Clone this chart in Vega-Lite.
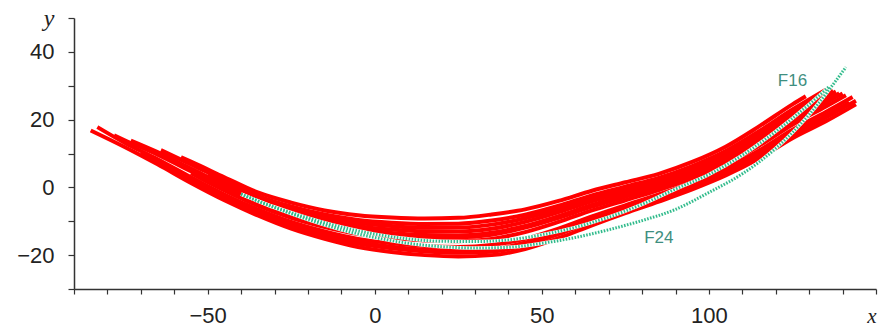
{
  "$schema": "https://vega.github.io/schema/vega-lite/v6.json",
  "width": 802,
  "height": 271,
  "autosize": "none",
  "padding": {"left": 74, "top": 18, "right": 4, "bottom": 40},
  "background": "white",
  "config": {"view": {"stroke": null}},
  "datasets": {
    "red": [
      {"c":1,"x":-85,"y":16.8},{"c":1,"x":-75,"y":12},{"c":1,"x":-65,"y":6.8},{"c":1,"x":-55,"y":1.3},{"c":1,"x":-45,"y":-3.8},{"c":1,"x":-35,"y":-8.3},{"c":1,"x":-25,"y":-12.2},{"c":1,"x":-15,"y":-15.2},{"c":1,"x":-5,"y":-17.6},{"c":1,"x":5,"y":-19.1},{"c":1,"x":15,"y":-20},{"c":1,"x":25,"y":-20.4},{"c":1,"x":35,"y":-20},{"c":1,"x":45,"y":-18.2},{"c":1,"x":55,"y":-15},{"c":1,"x":65,"y":-11.2},{"c":1,"x":75,"y":-7.6},{"c":1,"x":85,"y":-4.2},{"c":1,"x":95,"y":-0.6},{"c":1,"x":105,"y":3.5},{"c":1,"x":115,"y":8.5},{"c":1,"x":125,"y":14.5},{"c":1,"x":135,"y":19.5},{"c":1,"x":144,"y":24.5},
      {"c":2,"x":-83,"y":17.8},{"c":2,"x":-75,"y":13.25},{"c":2,"x":-65,"y":8.3},{"c":2,"x":-55,"y":3},{"c":2,"x":-45,"y":-2.1},{"c":2,"x":-35,"y":-6.5},{"c":2,"x":-25,"y":-10.2},{"c":2,"x":-15,"y":-13},{"c":2,"x":-5,"y":-15.2},{"c":2,"x":5,"y":-16.5},{"c":2,"x":15,"y":-17.3},{"c":2,"x":25,"y":-17.6},{"c":2,"x":35,"y":-17},{"c":2,"x":45,"y":-15.2},{"c":2,"x":55,"y":-12.2},{"c":2,"x":65,"y":-8.6},{"c":2,"x":75,"y":-5.3},{"c":2,"x":85,"y":-2.1},{"c":2,"x":95,"y":1.5},{"c":2,"x":105,"y":5.63},{"c":2,"x":115,"y":10.88},{"c":2,"x":125,"y":17},{"c":2,"x":135,"y":22.25},{"c":2,"x":143,"y":26.65},
      {"c":3,"x":-78,"y":15.35},{"c":3,"x":-75,"y":14},{"c":3,"x":-65,"y":9.65},{"c":3,"x":-55,"y":4.75},{"c":3,"x":-45,"y":-0.25},{"c":3,"x":-35,"y":-4.75},{"c":3,"x":-25,"y":-8.25},{"c":3,"x":-15,"y":-10.9},{"c":3,"x":-5,"y":-12.85},{"c":3,"x":5,"y":-13.95},{"c":3,"x":15,"y":-14.6},{"c":3,"x":25,"y":-14.75},{"c":3,"x":35,"y":-14},{"c":3,"x":45,"y":-11.9},{"c":3,"x":55,"y":-9},{"c":3,"x":65,"y":-5.7},{"c":3,"x":75,"y":-2.8},{"c":3,"x":85,"y":0},{"c":3,"x":95,"y":3.5},{"c":3,"x":105,"y":7.75},{"c":3,"x":115,"y":13.25},{"c":3,"x":125,"y":19.5},{"c":3,"x":135,"y":25},{"c":3,"x":140,"y":27.75},
      {"c":4,"x":-73,"y":13.8},{"c":4,"x":-65,"y":10.4},{"c":4,"x":-55,"y":5.58},{"c":4,"x":-45,"y":0.73},{"c":4,"x":-35,"y":-3.78},{"c":4,"x":-25,"y":-7.13},{"c":4,"x":-15,"y":-9.67},{"c":4,"x":-5,"y":-11.46},{"c":4,"x":5,"y":-12.44},{"c":4,"x":15,"y":-12.98},{"c":4,"x":25,"y":-13.03},{"c":4,"x":35,"y":-12.2},{"c":4,"x":45,"y":-10.18},{"c":4,"x":55,"y":-7.33},{"c":4,"x":65,"y":-4.15},{"c":4,"x":75,"y":-1.48},{"c":4,"x":85,"y":1.2},{"c":4,"x":95,"y":4.7},{"c":4,"x":105,"y":9.03},{"c":4,"x":115,"y":14.68},{"c":4,"x":125,"y":21},{"c":4,"x":135,"y":26.65},{"c":4,"x":138,"y":28.3},
      {"c":5,"x":-64,"y":11},{"c":5,"x":-55,"y":6.8},{"c":5,"x":-45,"y":2.03},{"c":5,"x":-35,"y":-2.48},{"c":5,"x":-25,"y":-5.63},{"c":5,"x":-15,"y":-8.03},{"c":5,"x":-5,"y":-9.6},{"c":5,"x":5,"y":-10.42},{"c":5,"x":15,"y":-10.82},{"c":5,"x":25,"y":-10.73},{"c":5,"x":35,"y":-9.8},{"c":5,"x":45,"y":-8.08},{"c":5,"x":55,"y":-5.43},{"c":5,"x":65,"y":-2.35},{"c":5,"x":75,"y":0.23},{"c":5,"x":85,"y":2.8},{"c":5,"x":95,"y":6.3},{"c":5,"x":105,"y":10.73},{"c":5,"x":115,"y":16.58},{"c":5,"x":125,"y":23},{"c":5,"x":135,"y":28.85},
      {"c":6,"x":-58,"y":8.9},{"c":6,"x":-55,"y":7.6},{"c":6,"x":-45,"y":3},{"c":6,"x":-35,"y":-1.5},{"c":6,"x":-25,"y":-4.5},{"c":6,"x":-15,"y":-6.8},{"c":6,"x":-5,"y":-8.2},{"c":6,"x":5,"y":-8.9},{"c":6,"x":15,"y":-9.2},{"c":6,"x":25,"y":-9},{"c":6,"x":35,"y":-8},{"c":6,"x":45,"y":-6.5},{"c":6,"x":55,"y":-4},{"c":6,"x":65,"y":-1},{"c":6,"x":75,"y":1.5},{"c":6,"x":85,"y":4},{"c":6,"x":95,"y":7.5},{"c":6,"x":105,"y":12},{"c":6,"x":115,"y":18},{"c":6,"x":125,"y":24.5},{"c":6,"x":129,"y":26.9},
      {"c":7,"x":-70,"y":10.1},{"c":7,"x":-65,"y":7.6},{"c":7,"x":-55,"y":2.2},{"c":7,"x":-45,"y":-3.1},{"c":7,"x":-35,"y":-7.6},{"c":7,"x":-25,"y":-11.4},{"c":7,"x":-15,"y":-14.3},{"c":7,"x":-5,"y":-16.6},{"c":7,"x":5,"y":-18},{"c":7,"x":15,"y":-18.9},{"c":7,"x":25,"y":-19.3},{"c":7,"x":35,"y":-19},{"c":7,"x":45,"y":-17},{"c":7,"x":55,"y":-13.8},{"c":7,"x":65,"y":-10},{"c":7,"x":75,"y":-6.6},{"c":7,"x":85,"y":-3.4},{"c":7,"x":95,"y":0.3},{"c":7,"x":105,"y":4.35},{"c":7,"x":115,"y":9.45},{"c":7,"x":125,"y":15.5},{"c":7,"x":135,"y":20.6},{"c":7,"x":144,"y":25.55},
      {"c":8,"x":-55,"y":4.2},{"c":8,"x":-45,"y":-0.9},{"c":8,"x":-35,"y":-5.4},{"c":8,"x":-25,"y":-9},{"c":8,"x":-15,"y":-11.72},{"c":8,"x":-5,"y":-13.78},{"c":8,"x":5,"y":-14.96},{"c":8,"x":15,"y":-15.68},{"c":8,"x":25,"y":-15.9},{"c":8,"x":35,"y":-15.2},{"c":8,"x":45,"y":-13.2},{"c":8,"x":55,"y":-10.2},{"c":8,"x":65,"y":-6.8},{"c":8,"x":75,"y":-3.8},{"c":8,"x":85,"y":-0.8},{"c":8,"x":95,"y":2.7},{"c":8,"x":105,"y":6.9},{"c":8,"x":115,"y":12.3},{"c":8,"x":125,"y":18.5},{"c":8,"x":135,"y":23.9},{"c":8,"x":141,"y":27.2},
      {"c":9,"x":-50,"y":3.75},{"c":9,"x":-45,"y":1.38},{"c":9,"x":-35,"y":-3.13},{"c":9,"x":-25,"y":-6.38},{"c":9,"x":-15,"y":-8.85},{"c":9,"x":-5,"y":-10.53},{"c":9,"x":5,"y":-11.43},{"c":9,"x":15,"y":-11.9},{"c":9,"x":25,"y":-11.88},{"c":9,"x":35,"y":-11},{"c":9,"x":45,"y":-9.13},{"c":9,"x":55,"y":-6.38},{"c":9,"x":65,"y":-3.25},{"c":9,"x":75,"y":-0.63},{"c":9,"x":85,"y":2},{"c":9,"x":95,"y":5.5},{"c":9,"x":105,"y":9.88},{"c":9,"x":115,"y":15.63},{"c":9,"x":125,"y":22},{"c":9,"x":135,"y":27.75},{"c":9,"x":137,"y":28.85},
      {"c":10,"x":-45,"y":0.08},{"c":10,"x":-35,"y":-4.43},{"c":10,"x":-25,"y":-7.88},{"c":10,"x":-15,"y":-10.49},{"c":10,"x":-5,"y":-12.39},{"c":10,"x":5,"y":-13.45},{"c":10,"x":15,"y":-14.06},{"c":10,"x":25,"y":-14.18},{"c":10,"x":35,"y":-13.4},{"c":10,"x":45,"y":-11.4},{"c":10,"x":55,"y":-8.5},{"c":10,"x":65,"y":-5.2},{"c":10,"x":75,"y":-2.33},{"c":10,"x":85,"y":0.4},{"c":10,"x":95,"y":3.9},{"c":10,"x":105,"y":8.18},{"c":10,"x":115,"y":13.73},{"c":10,"x":125,"y":20},{"c":10,"x":135,"y":25.55},{"c":10,"x":139,"y":27.75},
      {"c":11,"x":-40,"y":-4.78},{"c":11,"x":-35,"y":-7.03},{"c":11,"x":-25,"y":-10.88},{"c":11,"x":-15,"y":-13.77},{"c":11,"x":-5,"y":-16.1},{"c":11,"x":5,"y":-17.49},{"c":11,"x":15,"y":-18.38},{"c":11,"x":25,"y":-18.7},{"c":11,"x":35,"y":-18.3},{"c":11,"x":45,"y":-16.3},{"c":11,"x":55,"y":-13.2},{"c":11,"x":65,"y":-9.5},{"c":11,"x":75,"y":-6.2},{"c":11,"x":85,"y":-3},{"c":11,"x":95,"y":0.7},{"c":11,"x":105,"y":4.78},{"c":11,"x":115,"y":9.93},{"c":11,"x":125,"y":16},{"c":11,"x":135,"y":21.15},{"c":11,"x":142,"y":25}
    ],
    "green": [
      {"s":"F16","x":-40,"y":-2},{"s":"F16","x":-30,"y":-5.8},{"s":"F16","x":-20,"y":-9},{"s":"F16","x":-10,"y":-11.7},{"s":"F16","x":0,"y":-13.8},{"s":"F16","x":10,"y":-15.2},{"s":"F16","x":20,"y":-15.9},{"s":"F16","x":30,"y":-16},{"s":"F16","x":40,"y":-15.5},{"s":"F16","x":50,"y":-14},{"s":"F16","x":60,"y":-11.8},{"s":"F16","x":70,"y":-8.8},{"s":"F16","x":80,"y":-5},{"s":"F16","x":90,"y":-0.5},{"s":"F16","x":100,"y":3.8},{"s":"F16","x":110,"y":9.5},{"s":"F16","x":120,"y":16.5},{"s":"F16","x":130,"y":24.5},{"s":"F16","x":136,"y":29.8},
      {"s":"F24","x":-40,"y":-2},{"s":"F24","x":-30,"y":-6},{"s":"F24","x":-20,"y":-9.5},{"s":"F24","x":-10,"y":-12.5},{"s":"F24","x":0,"y":-14.8},{"s":"F24","x":10,"y":-16.5},{"s":"F24","x":20,"y":-17.5},{"s":"F24","x":30,"y":-17.9},{"s":"F24","x":40,"y":-17.7},{"s":"F24","x":50,"y":-16.5},{"s":"F24","x":60,"y":-14.8},{"s":"F24","x":70,"y":-12.5},{"s":"F24","x":80,"y":-9.8},{"s":"F24","x":90,"y":-6.5},{"s":"F24","x":100,"y":-1.5},{"s":"F24","x":110,"y":4},{"s":"F24","x":120,"y":11.5},{"s":"F24","x":130,"y":21.5},{"s":"F24","x":141,"y":35.5}
    ],
    "labels": [
      {"t":"F16","x":125,"y":31.5},
      {"t":"F24","x":85,"y":-14.8}
    ]
  },
  "encoding": {
    "x": {"field": "x", "type": "quantitative",
      "scale": {"domain": [-90, 150], "nice": false, "zero": false},
      "axis": {
        "title": null, "grid": false,
        "values": [-90,-80,-70,-60,-50,-40,-30,-20,-10,0,10,20,30,40,50,60,70,80,90,100,110,120,130,140,150],
        "labelExpr": "datum.value == 150 ? 'x' : (datum.value % 50 == 0 ? (datum.value < 0 ? '\u2212' + abs(datum.value) : '' + datum.value) : '')",
        "domainColor": "#333", "domainWidth": 1.5, "tickColor": "#333", "tickSize": 5, "tickWidth": 1.2,
        "labelFont": {"condition": {"test": "datum.value == 150", "value": "Liberation Serif"}, "value": "Liberation Sans"},
        "labelFontStyle": {"condition": {"test": "datum.value == 150", "value": "italic"}, "value": "normal"},
        "labelFontSize": {"condition": {"test": "datum.value == 150", "value": 21}, "value": 22},
        "labelAlign": {"condition": {"test": "datum.value == 150", "value": "right"}, "value": "center"},
        "labelColor": "#222", "labelPadding": 11, "labelFlush": false, "labelOverlap": false
      }
    },
    "y": {"field": "y", "type": "quantitative",
      "scale": {"domain": [-30, 50], "nice": false, "zero": false},
      "axis": {
        "title": null, "grid": false,
        "values": [-30,-20,-10,0,10,20,30,40,50],
        "labelExpr": "datum.value == 50 ? 'y' : (datum.value % 20 == 0 ? (datum.value < 0 ? '\u2212' + abs(datum.value) : '' + datum.value) : '')",
        "domainColor": "#333", "domainWidth": 1.5, "tickColor": "#333", "tickSize": 6, "tickWidth": 1.2,
        "labelFont": {"condition": {"test": "datum.value == 50", "value": "Liberation Serif"}, "value": "Liberation Sans"},
        "labelFontStyle": {"condition": {"test": "datum.value == 50", "value": "italic"}, "value": "normal"},
        "labelFontSize": {"condition": {"test": "datum.value == 50", "value": 24}, "value": 22},
        "labelColor": "#222", "labelPadding": 14, "labelFlush": false, "labelOverlap": false
      }
    }
  },
  "layer": [
    {
      "data": {"name": "red"},
      "mark": {"type": "line", "color": "#ff0000", "strokeWidth": 4, "interpolate": "monotone", "strokeCap": "butt"},
      "encoding": {"detail": {"field": "c", "type": "nominal"}}
    },
    {
      "data": {"name": "green"},
      "mark": {"type": "line", "color": "#f4fff8", "strokeWidth": 3.5, "interpolate": "monotone"},
      "encoding": {"detail": {"field": "s", "type": "nominal"}}
    },
    {
      "data": {"name": "green"},
      "mark": {"type": "line", "color": "#2fb88c", "strokeWidth": 3, "strokeDash": [1.5, 1.5], "interpolate": "monotone"},
      "encoding": {"detail": {"field": "s", "type": "nominal"}}
    },
    {
      "data": {"name": "labels"},
      "mark": {"type": "text", "font": "Liberation Sans", "fontSize": 17, "color": "#3f8f80"},
      "encoding": {"text": {"field": "t", "type": "nominal"}}
    }
  ]
}
